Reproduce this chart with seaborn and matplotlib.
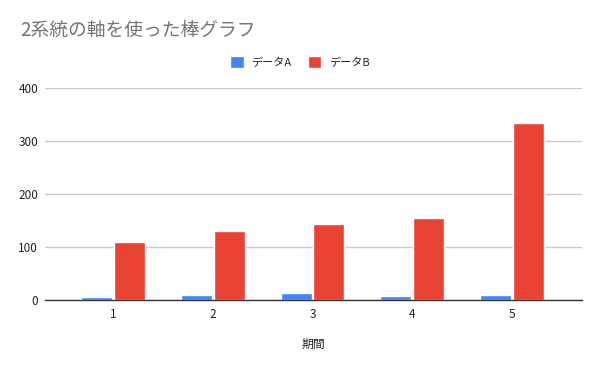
import pandas as pd
import matplotlib
matplotlib.use('Agg')
import matplotlib.pyplot as plt
import seaborn as sns
from matplotlib.patches import Patch

# データ
periods = ['1', '2', '3', '4', '5']
data_a = [5, 10, 13, 8, 10]
data_b = [109, 130, 143, 155, 334]
series_names = ['データA', 'データB']
colors = ['#4285f4', '#ea4335']

df = pd.DataFrame({
    '期間': periods * 2,
    '値': data_a + data_b,
    '系列': [series_names[0]] * 5 + [series_names[1]] * 5,
})

sns.set_style('white')
plt.rcParams['font.family'] = ['Noto Sans CJK JP', 'DejaVu Sans']

fig = plt.figure(figsize=(6, 3.71), dpi=100)
ax = fig.add_axes([45 / 600, 1 - 300 / 371, (582 - 45) / 600, (300 - 88) / 371])

sns.barplot(data=df, x='期間', y='値', hue='系列', palette=colors,
            width=0.66, gap=0.06, ax=ax, legend=False, saturation=1)

ax.set_xlim(-0.68, 4.70)
ax.set_ylim(0, 400)
ax.set_yticks([0, 100, 200, 300, 400])
ax.yaxis.grid(True, color='#cccccc', linewidth=1)
ax.set_axisbelow(True)
for s in ['top', 'right', 'left']:
    ax.spines[s].set_visible(False)
ax.spines['bottom'].set_color('#333333')
ax.spines['bottom'].set_linewidth(1.0)
ax.tick_params(axis='both', length=0, labelsize=8.5, colors='#222222')
ax.tick_params(axis='y', pad=5)
ax.tick_params(axis='x', pad=6)
ax.set_ylabel('')
ax.set_xlabel('期間', fontsize=8.5, color='#222222', labelpad=12)

fig.text(20 / 600, 1 - 30 / 371, '2系統の軸を使った棒グラフ', fontsize=13.5,
         color='#757575', va='center', ha='left')

# 凡例
handles = [Patch(facecolor=c, label=n) for c, n in zip(colors, series_names)]
fig.legend(handles=handles, loc='center', bbox_to_anchor=(300 / 600, 1 - 62 / 371),
           ncol=2, frameon=False, fontsize=8, handlelength=1.2, handleheight=1.2,
           columnspacing=1.5, handletextpad=0.7)

fig.savefig('out.png', dpi=100, facecolor='white')
